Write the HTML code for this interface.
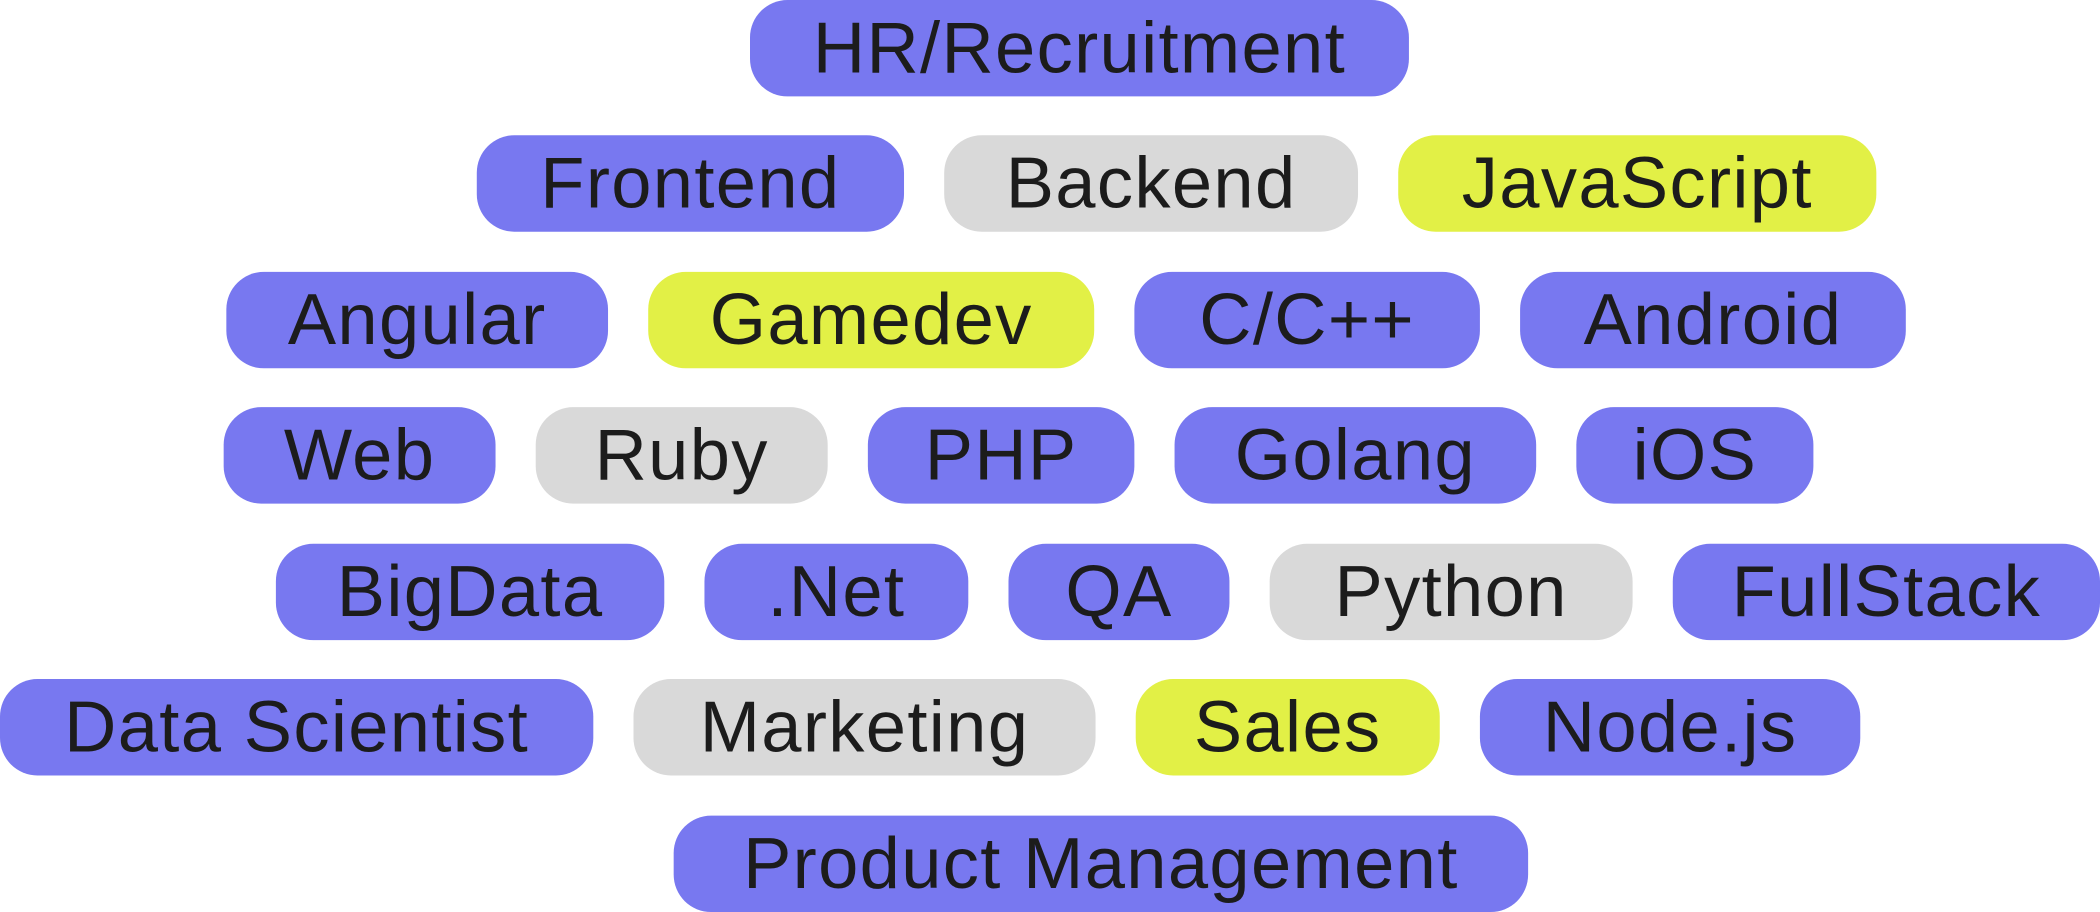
<!DOCTYPE html>
<html><head><meta charset="utf-8"><style>
html,body{margin:0;padding:0;background:#fff;width:2100px;height:912px;overflow:hidden}
#w{position:absolute;left:0;top:0;width:1568px;height:681px;transform:scale(1.33929);transform-origin:0 0}
.p{position:absolute;height:72px;border-radius:28px;display:flex;align-items:center;justify-content:center;font-family:"Liberation Sans",sans-serif;font-size:54px;color:#1c1c1c;letter-spacing:1px;white-space:nowrap}
.b{background:#7878F0}.g{background:#D9D9D9}.y{background:#E2F046}
</style></head><body><div id="w">
<div class="p b" style="left:560px;top:0;width:492px">HR/Recruitment</div>
<div class="p b" style="left:356px;top:101px;width:319px">Frontend</div>
<div class="p g" style="left:705px;top:101px;width:309px">Backend</div>
<div class="p y" style="left:1044px;top:101px;width:357px">JavaScript</div>
<div class="p b" style="left:169px;top:203px;width:285px">Angular</div>
<div class="p y" style="left:484px;top:203px;width:333px">Gamedev</div>
<div class="p b" style="left:847px;top:203px;width:258px">C/C++</div>
<div class="p b" style="left:1135px;top:203px;width:288px">Android</div>
<div class="p b" style="left:167px;top:304px;width:203px">Web</div>
<div class="p g" style="left:400px;top:304px;width:218px">Ruby</div>
<div class="p b" style="left:648px;top:304px;width:199px">PHP</div>
<div class="p b" style="left:877px;top:304px;width:270px">Golang</div>
<div class="p b" style="left:1177px;top:304px;width:177px">iOS</div>
<div class="p b" style="left:206px;top:406px;width:290px">BigData</div>
<div class="p b" style="left:526px;top:406px;width:197px">.Net</div>
<div class="p b" style="left:753px;top:406px;width:165px">QA</div>
<div class="p g" style="left:948px;top:406px;width:271px">Python</div>
<div class="p b" style="left:1249px;top:406px;width:319px">FullStack</div>
<div class="p b" style="left:0;top:507px;width:443px">Data Scientist</div>
<div class="p g" style="left:473px;top:507px;width:345px">Marketing</div>
<div class="p y" style="left:848px;top:507px;width:227px">Sales</div>
<div class="p b" style="left:1105px;top:507px;width:284px">Node.js</div>
<div class="p b" style="left:503px;top:609px;width:638px">Product Management</div>
</div></body></html>
